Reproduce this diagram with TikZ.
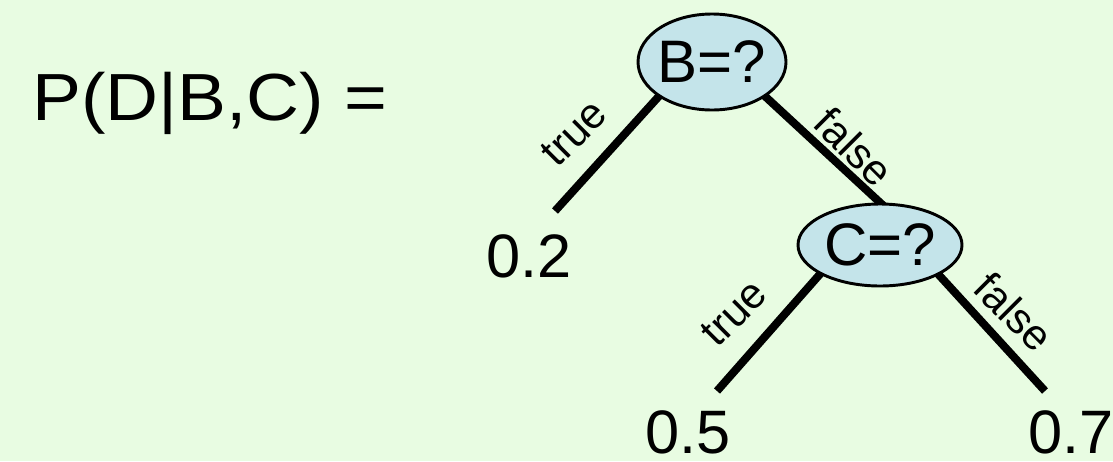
\documentclass[tikz,border=0pt]{standalone}
\usepackage{fontspec}
\setmainfont{Liberation Sans}
\usetikzlibrary{shapes.geometric}
\definecolor{bgc}{RGB}{232,252,226}
\definecolor{ellc}{RGB}{196,228,234}
\pgfdeclarelayer{bg}
\pgfsetlayers{bg,main}
\begin{document}
\begin{tikzpicture}[x=0.75pt,y=-0.75pt,
  dec/.style={ellipse, draw=black, line width=2.2pt, fill=ellc, inner sep=0pt,
              font=\fontsize{45}{54}\selectfont},
  branch/.style={line width=6pt, line cap=butt, shorten <=-12pt},
  lbl/.style={font=\fontsize{32}{38}\selectfont, inner sep=0pt},
  big/.style={font=\fontsize{46}{55}\selectfont, inner sep=0pt}]
\useasboundingbox (0,0) rectangle (1113,461);
\begin{pgfonlayer}{bg}
\fill[bgc] (0,0) rectangle (1113,461);
\end{pgfonlayer}

\node[big, font=\fontsize{50}{60}\selectfont, anchor=base west] (P) at (32,120) {\scalebox{1.1}[1]{P(D|B,C) =}};

\node[dec, minimum width=111pt, minimum height=72pt] (B) at (712,62) {\makebox[0pt]{B=?}};
\node[dec, minimum width=123pt, minimum height=61.5pt] (C) at (880,245) {\makebox[0pt]{C=?}};

\coordinate (e2) at (555,211);
\coordinate (e5) at (717,391);
\coordinate (e7) at (1045,391);

\begin{pgfonlayer}{bg}
\draw[branch] (B.213) -- (e2);
\draw[branch, shorten >=-8pt] (B.327) -- (C.90);
\draw[branch] (C.206.6) -- (e5);
\draw[branch] (C.333.4) -- (e7);
\end{pgfonlayer}

\node[big, anchor=base] (v2) at (529,277) {0.2};
\node[big, anchor=base] (v5) at (688,453) {0.5};
\node[big, anchor=base] (v7) at (1071,453) {0.7};

\node[lbl, rotate=45] (t1) at (574,133) {true};
\node[lbl, rotate=-45] (f1) at (854,147) {false};
\node[lbl, rotate=45] (t2) at (734,313) {true};
\node[lbl, rotate=-45] (f2) at (1014,312) {false};
\end{tikzpicture}
\end{document}
